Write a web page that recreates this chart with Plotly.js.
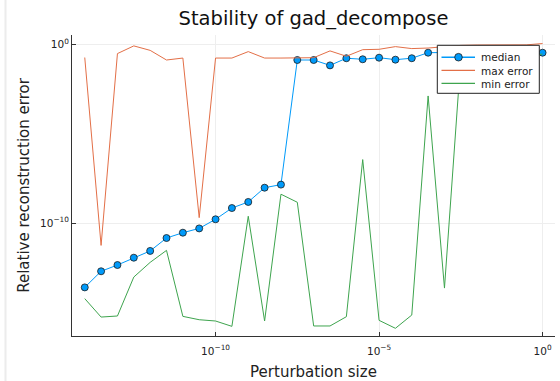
<!DOCTYPE html>
<html>
<head>
<meta charset="utf-8">
<script src="https://cdn.plot.ly/plotly-3.0.1.min.js"></script>
<style>
  html, body { margin: 0; padding: 0; background: #ffffff; }
  #chart { width: 560px; height: 381px; }
</style>
</head>
<body>
<div id="chart"></div>
<script>
// Perturbation sizes (x axis)
const perturbation = [
  1e-14, 3.16e-14, 1e-13, 3.16e-13, 1e-12, 3.16e-12, 1e-11, 3.16e-11,
  1e-10, 3.16e-10, 1e-9, 3.16e-9, 1e-8, 3.16e-8, 1e-7, 3.16e-7,
  1e-6, 3.16e-6, 1e-5, 3.16e-5, 1e-4, 3.16e-4, 1e-3, 3.16e-3,
  1e-2, 3.16e-2, 1e-1, 3.16e-1, 1
];

// Median relative reconstruction error
const medianError = [
  2.51e-14, 2.0e-13, 4.47e-13, 1.15e-12, 2.75e-12, 1.45e-11, 2.88e-11, 5.0e-11,
  1.62e-10, 6.9e-10, 1.51e-9, 9.5e-9, 1.41e-8, 0.132, 0.132, 0.066,
  0.166, 0.145, 0.178, 0.138, 0.166, 0.339, 0.355, 0.355,
  0.339, 0.363, 0.347, 0.355, 0.339
];

// Maximum relative reconstruction error
const maxError = [
  0.182, 5.6e-12, 0.302, 0.813, 0.457, 0.132, 0.17, 2.0e-10,
  0.17, 0.17, 0.389, 0.17, 0.17, 0.17, 0.178, 0.427,
  0.214, 0.5, 0.525, 0.741, 0.575, 0.617, 0.76, 0.87,
  0.91, 0.93, 0.91, 0.93, 1.10
];

// Minimum relative reconstruction error
const minError = [
  5.9e-15, 5.5e-16, 6.3e-16, 9.5e-14, 6.3e-13, 2.95e-12, 6.0e-16, 3.9e-16,
  3.3e-16, 1.66e-16, 2.4e-10, 3.3e-16, 4.1e-9, 1.45e-9, 1.74e-16, 1.74e-16,
  5.75e-16, 3.55e-7, 3.6e-16, 1.29e-16, 7.1e-16, 1.29e-3, 2.3e-14, 0.158,
  0.2, 0.22, 0.2, 0.25, 0.28
];

const seriesNames = ["median", "max error", "min error"];
const seriesColors = ["#009AFA", "#E36F47", "#3EA44E"];

// Tick positions and labels
const xTickVals = [1e-10, 1e-5, 1];
const xTickText = ["10<sup>\u221210</sup>", "10<sup>\u22125</sup>", "10<sup>0</sup>"];
const yTickVals = [1e-10, 1];
const yTickText = ["10<sup>\u221210</sup>", "10<sup>0</sup>"];

const FONT = "DejaVu Sans, Liberation Sans, sans-serif";

const traces = [
  {
    x: perturbation, y: medianError, name: seriesNames[0],
    type: "scatter", mode: "lines+markers",
    line: { color: seriesColors[0], width: 1 },
    marker: { color: seriesColors[0], size: 7, line: { color: "#1a1a1a", width: 0.8 } }
  },
  {
    x: perturbation, y: maxError, name: seriesNames[1],
    type: "scatter", mode: "lines",
    line: { color: seriesColors[1], width: 1 }
  },
  {
    x: perturbation, y: minError, name: seriesNames[2],
    type: "scatter", mode: "lines",
    line: { color: seriesColors[2], width: 1 }
  }
];

// plot area in pixels: left 72, right 555, top 35, bottom 336
const PL = 72, PW = 483, PB = 336, PH = 301;
const px = v => (v - PL) / PW;
const py = v => (PB - v) / PH;

// hand-built legend (compact rows like the reference)
const legBox = { x0: 437.3, x1: 539.3, y0: 45.3, y1: 93.3 };
const rowY = [57.2, 70.3, 83.4];
const shapes = [
  { type: "line", xref: "paper", yref: "paper",
    x0: px(5.5), x1: px(5.5), y0: -0.15, y1: 1.116,
    line: { color: "#ececec", width: 2 }, layer: "below" },
  { type: "rect", xref: "paper", yref: "paper",
    x0: px(legBox.x0), x1: px(legBox.x1), y0: py(legBox.y1), y1: py(legBox.y0),
    fillcolor: "#ffffff", line: { color: "#222222", width: 1 }, layer: "above" }
];
seriesNames.forEach((name, i) => {
  shapes.push({ type: "line", xref: "paper", yref: "paper",
    x0: px(441.5), x1: px(475), y0: py(rowY[i]), y1: py(rowY[i]),
    line: { color: seriesColors[i], width: i === 0 ? 1.6 : 1.2 }, layer: "above" });
});
shapes.push({ type: "circle", xref: "paper", yref: "paper",
  xsizemode: "pixel", ysizemode: "pixel",
  xanchor: px(458.5), yanchor: py(rowY[0]),
  x0: -3.8, x1: 3.8, y0: -3.8, y1: 3.8,
  fillcolor: seriesColors[0], line: { color: "#1a1a1a", width: 0.8 }, layer: "above" });
const annotations = [
  { xref: "paper", yref: "paper", x: px(479.5), y: py(rowY[1]),
    xanchor: "left", yanchor: "middle", align: "left", showarrow: false,
    text: seriesNames.join("<br>"), borderpad: 0,
    font: { family: FONT, size: 10.5, color: "#222222" } }
];

const layout = {
  width: 560, height: 381,
  margin: { l: 72, r: 5, t: 35, b: 45 },
  paper_bgcolor: "#ffffff",
  plot_bgcolor: "#ffffff",
  font: { family: FONT, color: "#222222" },
  title: {
    text: "Stability of gad_decompose",
    font: { family: FONT, size: 19.5, color: "#111111" },
    x: 0.5, xref: "paper", xanchor: "center",
    y: 1 - 18.5 / 381, yref: "container", yanchor: "middle"
  },
  xaxis: {
    type: "log",
    range: [-14.39, 0.38],
    tickmode: "array", tickvals: xTickVals, ticktext: xTickText,
    showline: true, linecolor: "#333333", linewidth: 1,
    ticks: "inside", ticklen: 4, tickcolor: "#333333",
    ticklabelstandoff: 5,
    showgrid: true, gridcolor: "#eeeeee", gridwidth: 1,
    zeroline: false,
    tickfont: { family: FONT, size: 10.5, color: "#222222" },
    title: { text: "Perturbation size", font: { family: FONT, size: 15, color: "#222222" }, standoff: 12 }
  },
  yaxis: {
    type: "log",
    range: [-16.32, 0.52],
    tickmode: "array", tickvals: yTickVals, ticktext: yTickText,
    showline: true, linecolor: "#333333", linewidth: 1,
    ticks: "inside", ticklen: 4, tickcolor: "#333333",
    showgrid: true, gridcolor: "#eeeeee", gridwidth: 1,
    zeroline: false,
    tickfont: { family: FONT, size: 10.5, color: "#222222" },
    title: { text: "Relative reconstruction error", font: { family: FONT, size: 15, color: "#222222" }, standoff: 6 }
  },
  showlegend: false,
  shapes: shapes,
  annotations: annotations
};

Plotly.newPlot("chart", traces, layout, { staticPlot: true, displayModeBar: false });
</script>
</body>
</html>
